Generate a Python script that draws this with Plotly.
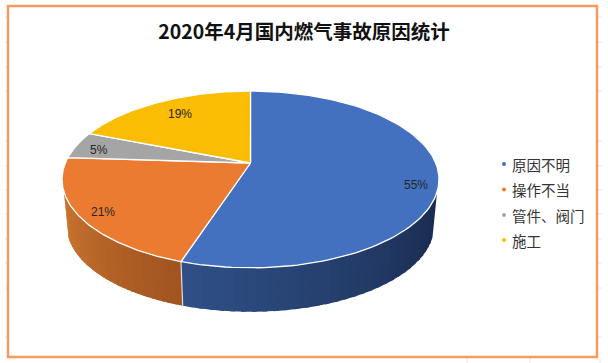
import numpy as np
import plotly.graph_objects as go

categories = ["原因不明", "操作不当", "管件、阀门", "施工"]
values = [55, 21, 5, 19]
labels = ["55%", "21%", "5%", "19%"]
title = "2020年4月国内燃气事故原因统计"

colors = ["#4371C0", "#EB7B30", "#A5A5A5", "#FBBC04"]
label_xy = [(416, 185), (103, 212), (99, 150), (180, 114)]
legend_y = [164, 189.5, 215, 240]
side_ticks = [17, 42, 67, 91, 141, 166, 190, 214, 239, 263, 288, 337]
bottom_ticks = [467, 530, 600]

W, H = 608, 363
CX, HUB_Y, A, B, K = 250.5, 163.0, 185.2, -55.0, 0.186
SCALE, CY_TOP, CY_BOT = 0.975, 179.5, 225.7
WALL_START, WALL_END = 108.6, 251.4


def top(deg):
    t = np.radians(deg)
    u, v = np.sin(t), np.cos(t)
    d = 1 + K * v
    return CX + A * u / d, (HUB_Y + B * v) / d


def bottom(deg):
    x, y = top(deg)
    return CX + (x - CX) * SCALE, CY_BOT + (y - CY_TOP) * SCALE


def mix(c1, c2, f):
    return "rgb(%d,%d,%d)" % tuple(round(a + (b - a) * f) for a, b in zip(c1, c2))


fig = go.Figure()
fracs = np.cumsum([0] + values) / sum(values) * 360

# side wall: (angle from, angle to, colour at start, colour at end)
walls = [
    (WALL_START, fracs[1], (0x19, 0x2A, 0x4D), (0x2F, 0x50, 0x87)),
    (fracs[1], WALL_END, (0xA0, 0x54, 0x20), (0xCB, 0x74, 0x30)),
]
N = 32
for a0, a1, c0, c1 in walls:
    edges = np.linspace(a0, a1, N + 1)
    for j in range(N):
        aa = np.linspace(edges[j], min(edges[j + 1] + 1.2, a1), 6)
        tx, ty = top(aa)
        bx, by = bottom(aa[::-1])
        f = (j + 0.5) / N
        fig.add_trace(go.Scatter(x=np.r_[tx, bx, tx[0]], y=np.r_[ty, by, ty[0]], mode="lines",
                                 fill="toself", fillcolor=mix(c0, c1, f), line=dict(width=0),
                                 hoverinfo="skip", showlegend=False))

# seam between the two visible walls
sx, sy = top(fracs[1]); ex, ey = bottom(fracs[1])
fig.add_trace(go.Scatter(x=[sx, ex], y=[sy, ey], mode="lines", line=dict(color="rgba(255,255,255,0.75)", width=1.2),
                         hoverinfo="skip", showlegend=False))

# top faces
for i, name in enumerate(categories):
    aa = np.linspace(fracs[i], fracs[i + 1], 120)
    x, y = top(aa)
    fig.add_trace(go.Scatter(x=np.r_[CX, x, CX], y=np.r_[HUB_Y, y, HUB_Y], mode="lines", fill="toself",
                             fillcolor=colors[i], line=dict(color="white", width=1.3), name=name,
                             hoverinfo="name", showlegend=False))
    fig.add_annotation(x=label_xy[i][0], y=label_xy[i][1], text=labels[i], showarrow=False,
                       font=dict(size=12, color="#262626", family="Liberation Sans"))

# legend
for i, name in enumerate(categories):
    fig.add_trace(go.Scatter(x=[504], y=[legend_y[i]], mode="markers", name=name,
                             marker=dict(color=colors[i], size=4, symbol="circle"), showlegend=False))
    fig.add_annotation(x=510, y=legend_y[i], text=name, showarrow=False, xanchor="left",
                       font=dict(size=14.5, color="#333333", family="Noto Sans CJK SC"))

grey = dict(color="#E6E6E6", width=1)
ticks = [dict(type="line", xref="x", yref="y", x0=5, x1=8, y0=t, y1=t, line=grey, layer="below") for t in side_ticks]
ticks += [dict(type="line", xref="x", yref="y", x0=598, x1=602, y0=t, y1=t, line=grey, layer="below") for t in side_ticks]
ticks += [dict(type="line", xref="x", yref="y", x0=t, x1=t, y0=358, y1=363, line=grey, layer="below") for t in bottom_ticks]

fig.update_layout(
    width=W, height=H, margin=dict(l=0, r=0, t=0, b=0), paper_bgcolor="white", plot_bgcolor="white",
    showlegend=False,
    font=dict(family="Noto Sans CJK SC"),
    title=dict(text="<b>%s</b>" % title, x=304 / W, xanchor="center", y=1 - 32 / H, yanchor="middle",
               font=dict(size=19.5, color="#111111", family="Noto Sans CJK SC")),
    xaxis=dict(range=[0, W], visible=False, fixedrange=True),
    yaxis=dict(range=[H, 0], visible=False, fixedrange=True),
    shapes=ticks + [dict(type="rect", xref="x", yref="y", x0=8, x1=597, y0=6, y1=357,
                         line=dict(color="#F79A61", width=2.5), layer="below")],
)
fig.write_html("out.html", config={"displayModeBar": False},
               post_script="document.body.style.margin='0';")
